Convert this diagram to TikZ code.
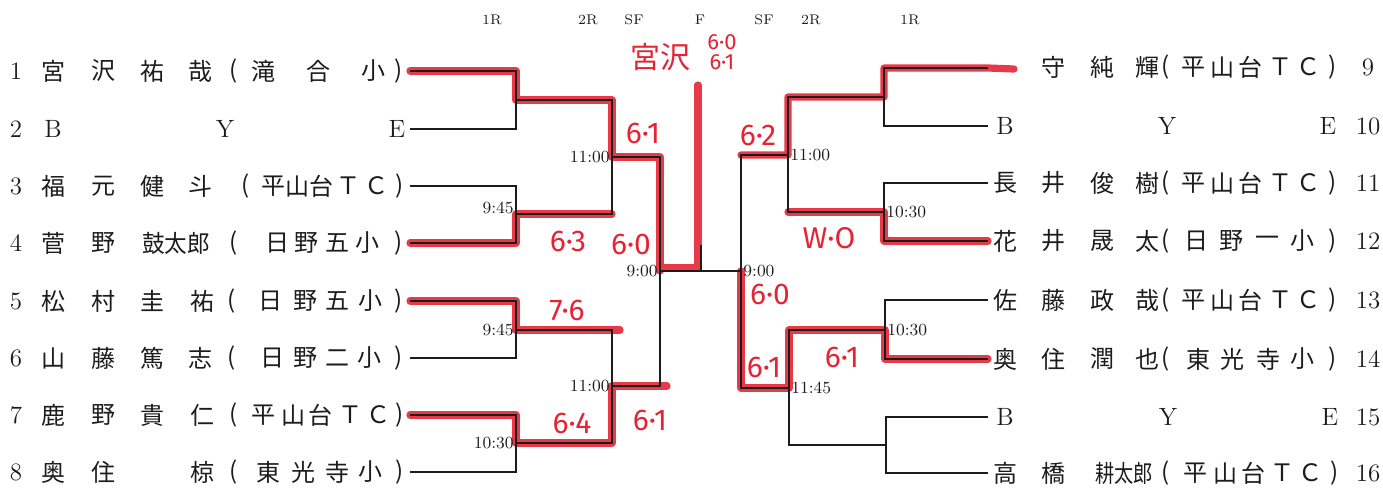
\documentclass[tikz,border=0pt]{standalone}
\usepackage{fontspec}
\usepackage{graphicx}
\newfontfamily\jpfont{Noto Sans CJK JP}
\newfontfamily\handfont{Fira Sans}
\usetikzlibrary{calc}
\definecolor{penred}{RGB}{228,36,52}
\definecolor{inkblack}{RGB}{28,28,28}

%% one row of characters at fixed columns
\newcommand{\entryrow}[2]{%
  \foreach \x/\c in {#2} {\node[entry] (t#1-\x) at (\x,#1) {\c};}}

\begin{document}
\begin{tikzpicture}[
  x=0.5pt, y=-0.5pt,
  every node/.style={inner sep=0pt},
  bracket/.style={draw=inkblack, line width=0.9pt},
  win/.style={draw=penred, line width=3.6pt, line cap=round,
              line join=round, opacity=0.9},
  entry/.style={font=\fontsize{12}{14}\selectfont\jpfont, text=inkblack},
  seed/.style={font=\fontsize{12.5}{14}\selectfont, text=inkblack},
  roundlabel/.style={font=\fontsize{7}{8}\selectfont, text=inkblack},
  timelabel/.style={font=\fontsize{8.5}{10}\selectfont, text=inkblack},
  score/.style={font=\fontsize{15}{17}\selectfont\handfont, text=penred}
]
\useasboundingbox (0,0) rectangle (1383,488);

%% ── Draw points ──────────────────────────────────────────────
\foreach \i/\y in {1/71,2/129,3/186,4/243,5/301,6/358,7/415,8/472}
  \coordinate (l\i) at (410,\y);
\foreach \i/\y in {9/68,10/126,11/183,12/241,13/300,14/359,15/417,16/473}
  \coordinate (r\i) at (988,\y);
\coordinate (r9x) at (1014,69);

\coordinate (a1) at (516,100);
\coordinate (a2) at (516,214);
\coordinate (a3) at (516,330);
\coordinate (a4) at (516,443);
\coordinate (b1) at (612,157);
\coordinate (b2) at (612,386);
\coordinate (c1) at (660,271);

\coordinate (d1) at (884,97);
\coordinate (d2) at (884,212);
\coordinate (d3) at (885,330);
\coordinate (d4) at (886,445);
\coordinate (e1) at (788,155);
\coordinate (e2) at (789,388);
\coordinate (g)  at (741,271);

\coordinate (f0) at (701,245);
\coordinate (f)  at (701,271);
\coordinate (fb) at (698,268);
\coordinate (fw) at (698,85);

%% ── Winner marks (red pen) ───────────────────────────────────
\draw[win] (l1) -| (a1) -| (b1) -| (c1) |- (fb) -- (fw);
\draw[win] (l4) -| (a2) -- (a2 -| b1);
\draw[win] (l5) -| (a3) -- ($(a3 -| b2)+(8,0)$);
\draw[win] (l7) -| (a4) -| (b2) -- ($(b2 -| c1)+(7,0)$);
\draw[win] (r9x) -- (r9) -| (d1) -| (e1) -- (e1 -| g);
\draw[win] (r12) -| (d2) -- (d2 -| e1);
\draw[win] (r14) -| (d3) -| (e2) -| (g);

%% ── Bracket lines ────────────────────────────────────────────
\draw[bracket] (l1) -| (a1) |- (l2);
\draw[bracket] (l3) -| (a2) |- (l4);
\draw[bracket] (l5) -| (a3) |- (l6);
\draw[bracket] (l7) -| (a4) |- (l8);
\draw[bracket] (a1) -| (b1) |- (a2);
\draw[bracket] (a3) -| (b2) |- (a4);
\draw[bracket] (b1) -| (c1) |- (b2);
\draw[bracket] (c1) -- (g);
\draw[bracket] (f0) -- (f);
\draw[bracket] (e1) -| (g) |- (e2);
\draw[bracket] (d1) -| (e1) |- (d2);
\draw[bracket] (d3) -| (e2) |- (d4);
\draw[bracket] (r9) -| (d1) |- (r10);
\draw[bracket] (r11) -| (d2) |- (r12);
\draw[bracket] (r13) -| (d3) |- (r14);
\draw[bracket] (r15) -| (d4) |- (r16);

%% ── Round headings ───────────────────────────────────────────
\foreach \x/\r [count=\k] in {492/1R,588/2R,634/SF,700/F,764/SF,811/2R,910/1R}
  \node[roundlabel] (rd\k) at (\x,20) {\r};

%% ── Match times ──────────────────────────────────────────────
\node[timelabel, anchor=east] (tb1) at ([xshift=-1pt]b1) {11:00};
\node[timelabel, anchor=east] (ta2) at ([xshift=-1pt,yshift=3pt]a2) {9:45};
\node[timelabel, anchor=east] (tc1) at ([xshift=-1pt]c1) {9:00};
\node[timelabel, anchor=east] (ta3) at ([xshift=-1pt]a3) {9:45};
\node[timelabel, anchor=east] (tb2) at ([xshift=-1pt]b2) {11:00};
\node[timelabel, anchor=east] (ta4) at ([xshift=-1pt]a4) {10:30};
\node[timelabel, anchor=west] (te1) at ([xshift=1pt]e1) {11:00};
\node[timelabel, anchor=west] (td2) at ([xshift=1pt]d2) {10:30};
\node[timelabel, anchor=west] (tg)  at ([xshift=1pt]g)  {9:00};
\node[timelabel, anchor=west] (td3) at ([xshift=1pt]d3) {10:30};
\node[timelabel, anchor=west] (te2) at ([xshift=1pt]e2) {11:45};

%% ── Seed numbers ─────────────────────────────────────────────
\foreach \i/\y in {1/71,2/129,3/186,4/243,5/301,6/358,7/415,8/472}
  \node[seed] (s\i) at (16,\y) {\i};
\foreach \i/\y in {9/67,10/126,11/183,12/241,13/300,14/359,15/417,16/473}
  \node[seed] (s\i) at (1368,\y) {\i};

%% ── Left players ─────────────────────────────────────────────
\entryrow{71}{53/宮,103/沢,152/祐,200/哉,234/(,263/滝,318/合,373/小,399/)}
\node[seed] (bye2b) at (53,129) {B};
\node[seed] (bye2y) at (225,129) {Y};
\node[seed] (bye2e) at (397,129) {E};
\entryrow{186}{53/福,103/元,152/健,200/斗,246/(,273/平,297/山,321/台,348/Ｔ,376/Ｃ,400/)}
\entryrow{243}{53/菅,103/野,176/\scalebox{0.94}[1]{鼓太郎},234/(,277/日,306/野,337/五,367/小,399/)}
\entryrow{301}{53/松,103/村,152/圭,202/祐,232/(,270/日,305/野,337/五,370/小,399/)}
\entryrow{358}{53/山,103/藤,152/篤,200/志,232/(,272/日,305/野,337/二,369/小,399/)}
\entryrow{415}{53/鹿,103/野,152/貴,202/仁,234/(,263/平,293/山,320/台,350/Ｔ,378/Ｃ,400/)}
\entryrow{472}{53/奥,103/住,202/椋,234/(,268/東,303/光,337/寺,370/小,400/)}

%% ── Right players ────────────────────────────────────────────
\entryrow{67}{1053/守,1102/純,1147/輝,1166/(,1193/平,1222/山,1250/台,1280/Ｔ,1308/Ｃ,1333/)}
\node[seed] (bye10b) at (1005,126) {B};
\node[seed] (bye10y) at (1167,126) {Y};
\node[seed] (bye10e) at (1328,126) {E};
\entryrow{183}{1005/長,1053/井,1102/俊,1147/樹,1166/(,1193/平,1222/山,1250/台,1280/Ｔ,1308/Ｃ,1333/)}
\entryrow{241}{1005/花,1053/井,1102/晟,1147/太,1166/(,1196/日,1231/野,1267/一,1302/小,1333/)}
\entryrow{300}{1005/佐,1053/藤,1102/政,1147/哉,1166/(,1193/平,1222/山,1250/台,1280/Ｔ,1308/Ｃ,1333/)}
\entryrow{359}{1005/奥,1053/住,1102/潤,1147/也,1166/(,1198/東,1232/光,1268/寺,1302/小,1333/)}
\node[seed] (bye15b) at (1005,417) {B};
\node[seed] (bye15y) at (1168,417) {Y};
\node[seed] (bye15e) at (1330,417) {E};
\entryrow{473}{1005/高,1053/橋,1124/\scalebox{0.8}[1]{耕太郎},1166/(,1195/平,1225/山,1253/台,1282/Ｔ,1310/Ｃ,1335/)}

%% ── Handwritten results ──────────────────────────────────────
\node[score, font=\fontsize{15}{17}\selectfont\jpfont] (champ) at (660,57) {宮沢};
\node[score, font=\fontsize{11}{10}\selectfont\handfont, align=center]
  (finalsc) at (722,52) {6·0\\6·1};
\node[score] (sc1) at (643,133) {6·1};
\node[score] (sc2) at (568,241) {6·3};
\node[score] (sc3) at (631,244) {6·0};
\node[score] (sc4) at (567,310) {7·6};
\node[score] (sc5) at (572,423) {6·4};
\node[score] (sc6) at (650,420) {6·1};
\node[score] (sc7) at (758,135) {6·2};
\node[score] (sc8) at (829,238) {W·O};
\node[score] (sc9) at (770,294) {6·0};
\node[score] (sc10) at (764,367) {6·1};
\node[score] (sc11) at (842,357) {6·1};

\end{tikzpicture}
\end{document}
